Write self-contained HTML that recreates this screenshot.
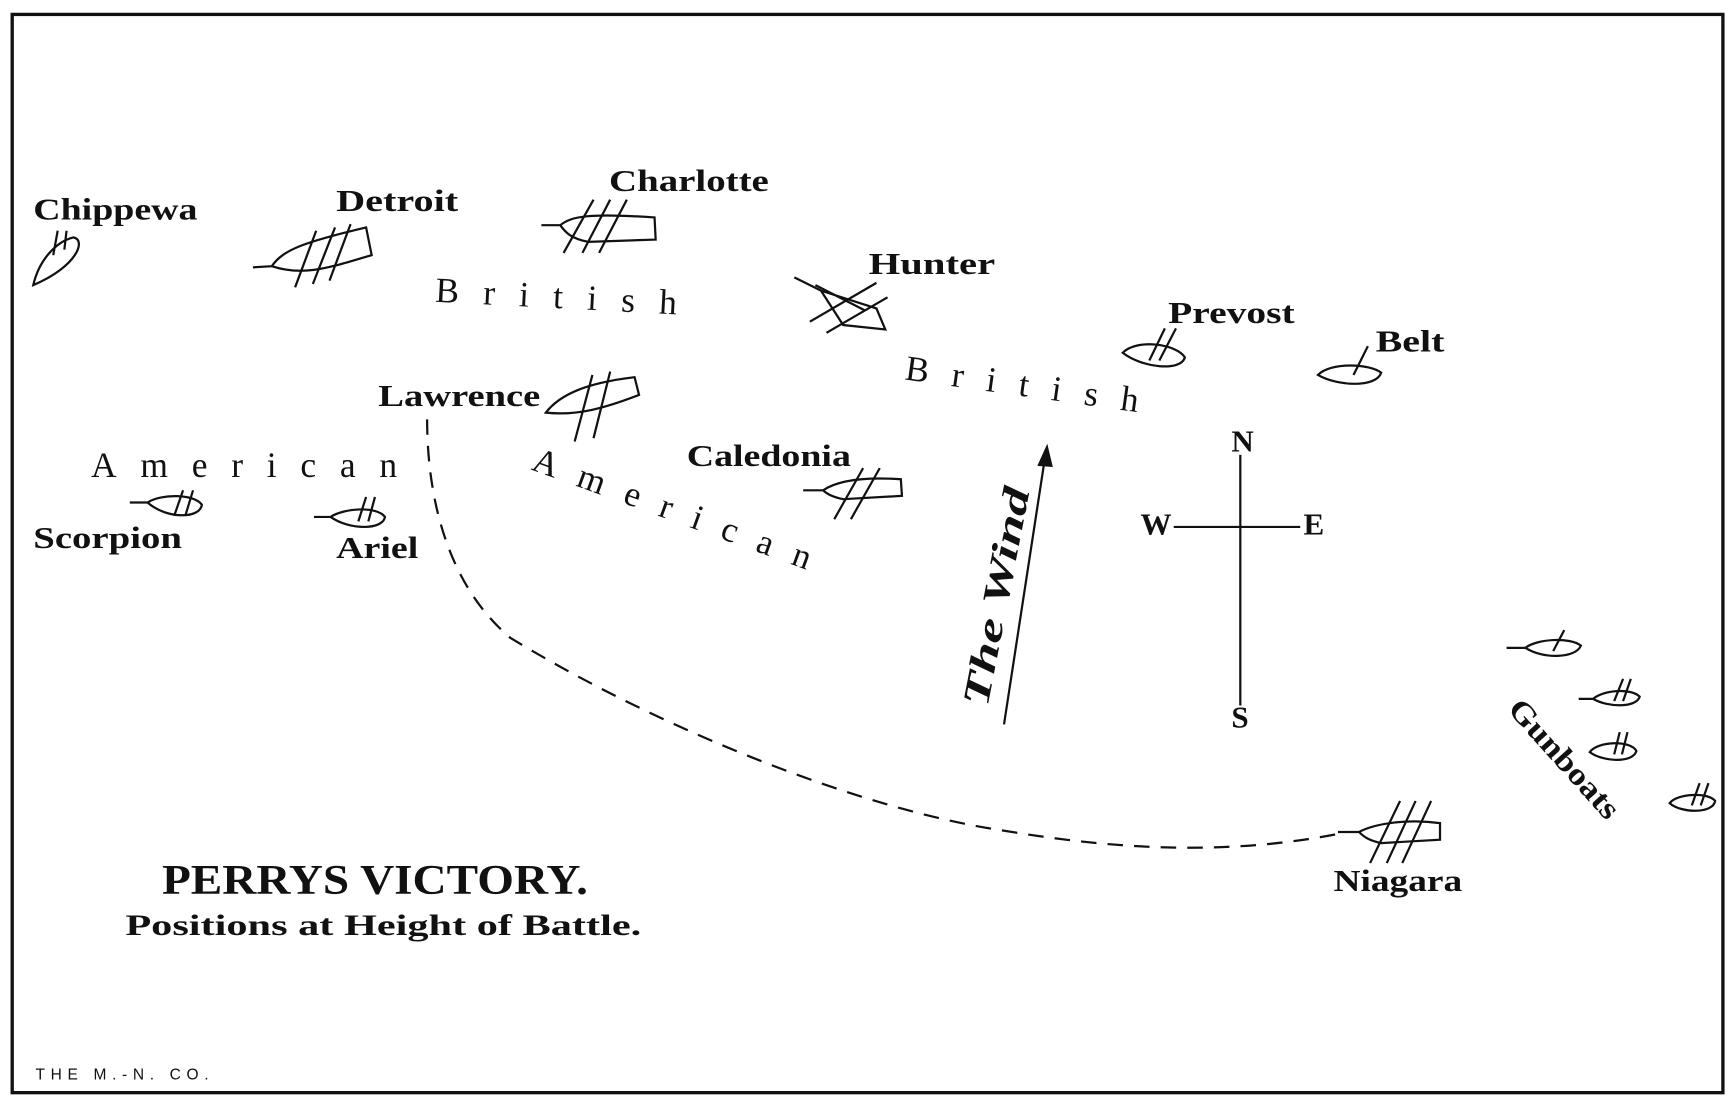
<!DOCTYPE html>
<html><head><style>
html,body{margin:0;padding:0;background:#fff;}
svg{display:block;}
text{font-family:"Liberation Serif",serif;fill:#111;}
.b{font-weight:bold;font-size:28px;}
.s{font-size:32px;}
</style></head><body>
<svg width="1734" height="1096" viewBox="0 0 1563 988" preserveAspectRatio="none" xmlns="http://www.w3.org/2000/svg">
<rect x="11" y="13" width="1542" height="972" fill="none" stroke="#111" stroke-width="3"/>
<g fill="none" stroke="#111" stroke-width="2">
<path d="M30 257 C35 235 50 218 66 214 C78 216 70 240 30 257 Z"/><path d="M48 230 L52 208 M58 225 L60 208"/>
<path d="M228 241 L245 240 C255 225 275 218 330 205 L335 230 C300 240 275 250 245 240"/><path d="M266 259 L285 208 M282 256 L302 205 M297 253 L316 202"/>
<path d="M488 203 L505 203 C515 195 530 192 590 196 L591 216 L530 218 C515 215 510 210 505 203"/><path d="M508 228 L535 180 M525 228 L550 180 M540 228 L565 180"/>
<path d="M716 250 L740 262 L790 278 L798 297 L760 293 L740 262"/><path d="M730 290 L790 255 M745 300 L800 268 M735 257 L780 280"/>
<path d="M1012 318 C1025 305 1060 310 1068 322 C1065 335 1030 332 1012 318 Z"/><path d="M1036 325 L1050 296 M1045 325 L1060 296"/>
<path d="M1188 338 C1200 326 1235 328 1245 336 C1240 350 1205 348 1188 338 Z"/><path d="M1220 338 L1233 312"/>
<path d="M492 372 C505 355 530 345 572 340 L576 356 C545 368 520 375 492 372 Z"/><path d="M518 398 L534 338 M535 395 L550 335"/>
<path d="M724 442 L742 442 C755 433 780 430 812 432 L813 447 L760 450 C750 448 745 445 742 442"/><path d="M752 468 L778 422 M767 468 L793 422"/>
<path d="M117 453 L133 453 C145 445 175 445 182 455 C180 468 150 468 133 453"/><path d="M157 465 L165 442 M167 465 L174 442"/>
<path d="M283 466 L298 466 C310 458 340 456 347 466 C345 478 315 478 298 466"/><path d="M323 470 L330 448 M332 470 L338 448"/>
<path d="M1206 750 L1225 750 C1240 742 1270 738 1298 742 L1298 757 L1245 760 C1235 758 1230 755 1225 750"/><path d="M1235 778 L1262 722 M1250 778 L1276 722 M1264 778 L1290 722"/>
<path d="M1358 584 L1375 584 C1385 576 1415 574 1425 582 C1420 594 1390 594 1375 584"/><path d="M1400 587 L1410 568"/>
<path d="M1423 630 L1436 630 C1445 622 1470 620 1478 628 C1475 638 1450 638 1436 630"/><path d="M1455 632 L1463 612 M1463 632 L1470 612"/>
<path d="M1433 678 C1440 668 1470 667 1475 677 C1472 688 1445 687 1433 678 Z"/><path d="M1455 680 L1460 660 M1462 680 L1467 660"/>
<path d="M1505 724 C1512 715 1540 714 1546 722 C1544 734 1515 733 1505 724 Z"/><path d="M1525 726 L1532 706 M1533 726 L1540 706"/>
<path d="M385 378 C385 430 395 520 460 575 C600 660 780 730 900 748 C1000 765 1100 772 1205 752" stroke-dasharray="14 10"/>
<path d="M1118 410 L1118 636 M1058 475 L1172 475"/>
<path d="M905 653 L942 412"/>
</g>
<polygon points="944,400 935,420 949,421" fill="#111"/>
<text class="b" x="30" y="198" textLength="148" lengthAdjust="spacingAndGlyphs">Chippewa</text>
<text class="b" x="303" y="190" textLength="110" lengthAdjust="spacingAndGlyphs">Detroit</text>
<text class="b" x="549" y="172" textLength="144" lengthAdjust="spacingAndGlyphs">Charlotte</text>
<text class="b" x="783" y="247" textLength="114" lengthAdjust="spacingAndGlyphs">Hunter</text>
<text class="b" x="1053" y="291" textLength="114" lengthAdjust="spacingAndGlyphs">Prevost</text>
<text class="b" x="1240" y="317" textLength="62" lengthAdjust="spacingAndGlyphs">Belt</text>
<text class="b" x="341" y="366" textLength="146" lengthAdjust="spacingAndGlyphs">Lawrence</text>
<text class="b" x="619" y="420" textLength="148" lengthAdjust="spacingAndGlyphs">Caledonia</text>
<text class="b" x="30" y="494" textLength="134" lengthAdjust="spacingAndGlyphs">Scorpion</text>
<text class="b" x="303" y="503" textLength="74" lengthAdjust="spacingAndGlyphs">Ariel</text>
<text class="b" x="1202" y="803" textLength="116" lengthAdjust="spacingAndGlyphs">Niagara</text>
<text class="s" x="392" y="272" transform="rotate(3 392 272)" textLength="218">British</text>
<text class="s" x="815" y="342" transform="rotate(8 815 342)" textLength="212">British</text>
<text class="s" x="82" y="430" textLength="276">American</text>
<text class="s" x="478" y="423" transform="rotate(20 478 423)" textLength="265">American</text>
<text class="b" x="1358" y="640" transform="rotate(48 1358 640)" textLength="135" lengthAdjust="spacingAndGlyphs">Gunboats</text>
<text font-size="34" font-style="italic" font-weight="bold" x="890" y="638" transform="rotate(-79 890 638)" textLength="200" lengthAdjust="spacingAndGlyphs">The Wind</text>
<text class="b" font-size="22" x="1110" y="407">N</text>
<text class="b" font-size="22" x="1110" y="656">S</text>
<text class="b" font-size="22" x="1028" y="482">W</text>
<text class="b" font-size="22" x="1175" y="482">E</text>
<text font-weight="bold" font-size="38" x="146" y="806" textLength="384" lengthAdjust="spacingAndGlyphs">PERRYS VICTORY.</text>
<text font-weight="bold" font-size="27" x="113" y="843" textLength="465" lengthAdjust="spacingAndGlyphs">Positions at Height of Battle.</text>
<text font-size="14" letter-spacing="2" x="32" y="973" textLength="158" style="font-family:'Liberation Sans',sans-serif">THE M.-N. CO.</text>
</svg>
</body></html>
